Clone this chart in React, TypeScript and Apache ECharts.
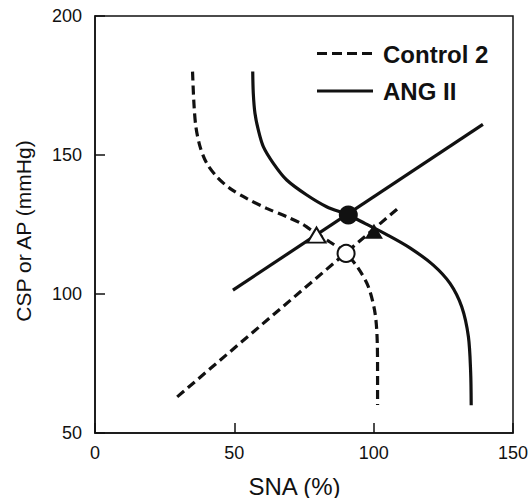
import React, { useEffect, useRef } from "react";
import * as echarts from "echarts";

// Control 2 baroreflex curve (SNA vs CSP) : [SNA %, CSP mmHg]
const control2Curve: [number, number][] = [
  [35.0, 180], [35.5, 168.6], [36.2, 160.2], [37.7, 153], [40.1, 147],
  [43.7, 142.2], [48.4, 138], [54.4, 134.4], [61.6, 130.8], [68.8, 127.8],
  [74.5, 125.1], [79.5, 121.6], [84.3, 118.7], [90.1, 114.6], [94.5, 109.2],
  [98.1, 102.6], [100.5, 93.1], [101.3, 82.3], [101.4, 70], [101.4, 60.1],
];
// ANG II baroreflex curve
const angCurve: [number, number][] = [
  [56.6, 180], [56.8, 172.2], [57.4, 165], [58.6, 159], [60.4, 153],
  [64.0, 147], [68.8, 141], [76.0, 135.6], [83.1, 131.4], [90.9, 128.4],
  [97.0, 125.3], [105.0, 121.2], [113.0, 116.6], [121.4, 110.4], [127.4, 103.8],
  [131.6, 95.4], [134.0, 84.6], [134.8, 72], [135.0, 60],
];
// Peripheral arcs (AP vs SNA)
const control2Line: [number, number][] = [[29.5, 63], [109.2, 131.2]];
const angLine: [number, number][] = [[49.5, 101.4], [139.2, 161]];

// Operating points
const filledCircle: [number, number][] = [[90.9, 128.4]];
const openCircle: [number, number][] = [[90.1, 114.6]];
const filledTriangle: [number, number][] = [[100.1, 122.6]];
const openTriangle: [number, number][] = [[79.5, 121.2]];

const xTicks = [0, 50, 100, 150];
const yTicks = [50, 100, 150, 200];
const legendNames = ["Control 2", "ANG II"];

const INK = "#111111";

export default function App() {
  const ref = useRef<HTMLDivElement>(null);
  useEffect(() => {
    if (!ref.current) return;
    const chart = echarts.init(ref.current, undefined, { renderer: "svg" });
    const dashed = { color: INK, width: 3.2, type: [9, 5] as any };
    const solid = { color: INK, width: 3.2 };
    const emph = { disabled: true };
    chart.setOption({
      animation: false,
      backgroundColor: "#fff",
      grid: {
        left: 95, top: 16, right: 19, bottom: 65,
        show: true, borderColor: INK, borderWidth: 1.5,
      },
      xAxis: {
        type: "value",
        min: xTicks[0], max: xTicks[xTicks.length - 1], interval: 50,
        splitLine: { show: false },
        axisLine: { show: true, lineStyle: { color: INK, width: 1.5 } },
        axisTick: { show: true, inside: true, length: 10, lineStyle: { color: INK, width: 1.5 } },
        axisLabel: { color: INK, fontSize: 18, margin: 11, fontFamily: "Liberation Sans, Arial, sans-serif" },
      },
      yAxis: {
        type: "value",
        min: yTicks[0], max: yTicks[yTicks.length - 1], interval: 50,
        splitLine: { show: false },
        axisLine: { show: true, lineStyle: { color: INK, width: 1.5 } },
        axisTick: { show: true, inside: true, length: 10, lineStyle: { color: INK, width: 1.5 } },
        axisLabel: { color: INK, fontSize: 18, margin: 13, fontFamily: "Liberation Sans, Arial, sans-serif" },
      },
      series: [
        { type: "line", data: control2Curve, smooth: 0.3, showSymbol: false, lineStyle: dashed, z: 2, emphasis: emph },
        { type: "line", data: control2Line, showSymbol: false, lineStyle: dashed, z: 2, emphasis: emph },
        { type: "line", data: angCurve, smooth: 0.3, showSymbol: false, lineStyle: solid, z: 2, emphasis: emph },
        { type: "line", data: angLine, showSymbol: false, lineStyle: solid, z: 2, emphasis: emph },
        {
          type: "scatter", data: openCircle, symbol: "circle", symbolSize: 17, z: 5, emphasis: emph,
          itemStyle: { color: "#fff", borderColor: INK, borderWidth: 2, opacity: 1 },
        },
        {
          type: "scatter", data: filledCircle, symbol: "circle", symbolSize: 19, z: 5, emphasis: emph,
          itemStyle: { color: INK, opacity: 1 },
        },
        {
          type: "scatter", data: filledTriangle, symbol: "triangle", symbolSize: [18, 15], z: 5, emphasis: emph,
          itemStyle: { color: INK, opacity: 1 },
        },
        {
          type: "scatter", data: openTriangle, symbol: "triangle", symbolSize: [18, 15], z: 5, emphasis: emph,
          itemStyle: { color: "#fff", borderColor: INK, borderWidth: 2, opacity: 1 },
        },
      ],
      graphic: [
        { type: "line", shape: { x1: 317, y1: 53.5, x2: 372, y2: 53.5 }, style: { stroke: INK, lineWidth: 3.2, lineDash: [10, 5] } },
        { type: "line", shape: { x1: 317, y1: 91, x2: 373, y2: 91 }, style: { stroke: INK, lineWidth: 3.2 } },
        {
          type: "text", x: 383, y: 54,
          style: { text: legendNames[0], fill: INK, font: "bold 24px 'Liberation Sans', Arial, sans-serif", textAlign: "left", textVerticalAlign: "middle" },
        },
        {
          type: "text", x: 383, y: 91.5,
          style: { text: legendNames[1], fill: INK, font: "bold 24px 'Liberation Sans', Arial, sans-serif", textAlign: "left", textVerticalAlign: "middle" },
        },
        {
          type: "text", x: 294.5, y: 486,
          style: { text: "SNA (%)", fill: INK, font: "24px 'Liberation Sans', Arial, sans-serif", textAlign: "center", textVerticalAlign: "middle" },
        },
        {
          type: "text", x: 23, y: 231, rotation: Math.PI / 2,
          style: { text: "CSP or AP (mmHg)", fill: INK, font: "21px 'Liberation Sans', Arial, sans-serif", textAlign: "center", textVerticalAlign: "middle" },
        },
      ],
    });
    return () => chart.dispose();
  }, []);
  return <div ref={ref} style={{ width: 532, height: 498, position: "absolute", left: 0, top: 0 }} />;
}
